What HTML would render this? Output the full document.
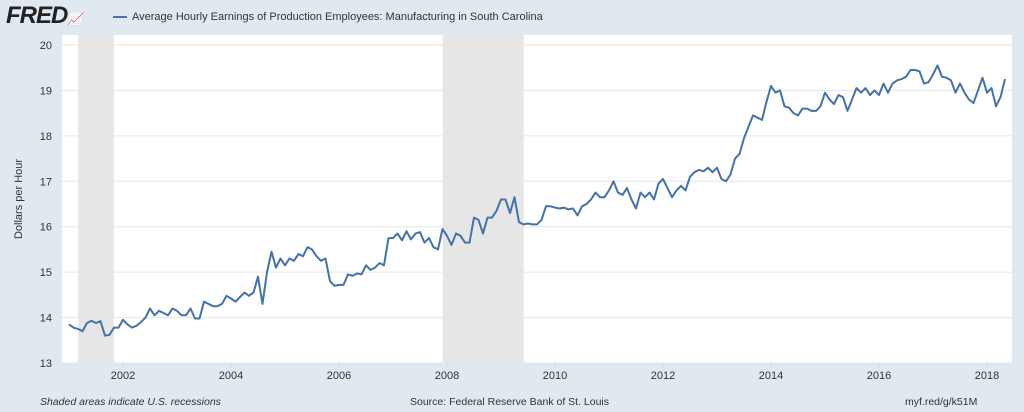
<!DOCTYPE html>
<html><head><meta charset="utf-8"><style>
body{margin:0;width:1024px;height:412px;background:#e1e9f0;font-family:"Liberation Sans",sans-serif;overflow:hidden;position:relative}
.t{position:absolute;color:#333;font-size:11px}
</style></head><body>
<div class="t" style="left:6px;top:2px;font-size:24px;font-weight:bold;font-style:italic;color:#222;letter-spacing:-1px">FRED<span style="font-size:12px;color:#6a9bc3">📈</span></div>
<div class="t" style="left:113px;top:11px;font-size:11px;color:#333"><span style="display:inline-block;width:14px;height:2px;background:#4572a7;vertical-align:middle;margin-right:5px"></span>Average Hourly Earnings of Production Employees: Manufacturing in South Carolina</div>
<svg width="1024" height="412" style="position:absolute;left:0;top:0">
<g id="g"></g>
</svg>
<div class="t" style="left:40px;top:396px;font-style:italic;font-size:10.5px">Shaded areas indicate U.S. recessions</div>
<div class="t" style="left:410px;top:396px;font-size:10.5px">Source: Federal Reserve Bank of St. Louis</div>
<div class="t" style="left:905px;top:396px;font-size:10.5px">myf.red/g/k51M</div>
<script>
const startYear=2001;
const values=[13.85,13.78,13.75,13.7,13.88,13.93,13.88,13.92,13.6,13.62,13.78,13.78,
13.95,13.85,13.78,13.82,13.9,14.0,14.2,14.05,14.15,14.1,14.05,14.2,
14.15,14.05,14.05,14.2,13.98,13.98,14.35,14.3,14.25,14.25,14.3,14.48,
14.42,14.35,14.45,14.55,14.48,14.55,14.9,14.3,15.0,15.45,15.1,15.3,
15.15,15.3,15.25,15.4,15.35,15.55,15.5,15.35,15.25,15.3,14.8,14.7,
14.72,14.72,14.95,14.92,14.97,14.95,15.15,15.05,15.1,15.2,15.15,15.75,
15.75,15.85,15.7,15.9,15.72,15.85,15.88,15.65,15.75,15.55,15.5,15.95,
15.8,15.6,15.85,15.8,15.65,15.65,16.2,16.15,15.85,16.2,16.2,16.35,
16.6,16.6,16.3,16.65,16.1,16.05,16.07,16.05,16.05,16.15,16.45,16.45,
16.42,16.4,16.42,16.38,16.4,16.25,16.45,16.5,16.6,16.75,16.65,16.65,
16.8,17.0,16.75,16.7,16.85,16.6,16.4,16.75,16.65,16.75,16.6,16.95,
17.05,16.85,16.65,16.8,16.9,16.8,17.1,17.2,17.25,17.22,17.3,17.2,
17.3,17.05,17.0,17.15,17.5,17.6,17.95,18.2,18.45,18.4,18.35,18.75,
19.1,18.95,19.0,18.65,18.62,18.5,18.45,18.6,18.6,18.55,18.55,18.65,
18.95,18.8,18.7,18.9,18.85,18.55,18.8,19.05,18.95,19.05,18.9,19.0,
18.9,19.15,18.95,19.15,19.22,19.25,19.3,19.45,19.45,19.42,19.15,19.18,
19.35,19.55,19.3,19.28,19.22,18.95,19.15,18.95,18.8,18.72,19.0,19.28,
18.95,19.05,18.65,18.85,19.25];
const yTicks=[13,14,15,16,17,18,19,20];
const xTicks=[2002,2004,2006,2008,2010,2012,2014,2016,2018];
const recessions=[[2001.17,2001.83],[2007.92,2009.42]];
const X=t=>123+(t-2002)*54, Y=v=>363-(v-13)*45.43;
const g=document.getElementById('g'),NS='http://www.w3.org/2000/svg';
function mk(tag,a){const e=document.createElementNS(NS,tag);for(const k in a)e.setAttribute(k,a[k]);g.appendChild(e);return e;}
let e=mk('rect',{x:62,y:35,width:950,height:328,fill:'#fff'});

recessions.forEach(r=>{const el=mk('rect',{x:X(r[0]),y:35,width:X(r[1])-X(r[0]),height:328,fill:'#e6e6e6'});
});
yTicks.forEach(v=>{const l=mk('line',{x1:62,x2:1012,y1:Y(v),y2:Y(v),stroke:'#e6e6e6','stroke-width':1});

const t=mk('text',{x:52,y:Y(v)+4,'text-anchor':'end','font-size':11,fill:'#333'});t.textContent=v;
});
xTicks.forEach(v=>{const t=mk('text',{x:X(v),y:379,'text-anchor':'middle','font-size':11,fill:'#333'});t.textContent=v;

const k=mk('line',{x1:X(v),x2:X(v),y1:363,y2:368,stroke:'#ccd6eb'});
});
const yt=mk('text',{x:0,y:0,transform:'translate(22,199) rotate(-90)','text-anchor':'middle','font-size':11,fill:'#333'});
yt.textContent='Dollars per Hour';
const pts=values.map((v,i)=>X(startYear+i/12).toFixed(1)+','+Y(v).toFixed(1)).join(' ');
const p=mk('polyline',{points:pts,fill:'none',stroke:'#4572a7','stroke-width':2,'stroke-linejoin':'round'});

</script>
</body></html>
